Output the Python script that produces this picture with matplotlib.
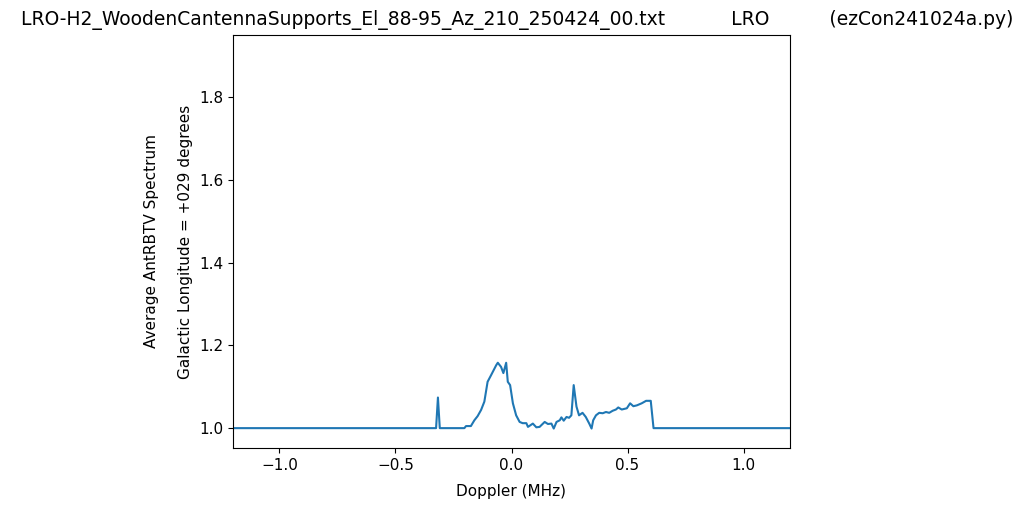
import matplotlib
matplotlib.use("Agg")
import matplotlib.pyplot as plt

doppler_mhz = [-1.2, -0.325, -0.317, -0.309, -0.203, -0.196, -0.175, -0.160, -0.146, -0.131,
               -0.117, -0.103, -0.088, -0.066, -0.059, -0.045, -0.035, -0.023, -0.016, -0.006,
               0.006, 0.020, 0.035, 0.048, 0.064, 0.071, 0.092, 0.107, 0.121, 0.143,
               0.157, 0.172, 0.182, 0.194, 0.208, 0.215, 0.225, 0.237, 0.248, 0.258,
               0.268, 0.280, 0.291, 0.306, 0.320, 0.335, 0.345, 0.352, 0.364, 0.378,
               0.393, 0.407, 0.421, 0.436, 0.450, 0.460, 0.475, 0.497, 0.511, 0.525,
               0.540, 0.561, 0.580, 0.600, 0.612, 1.2]
avg_spectrum = [1.0, 1.0, 1.074, 1.0, 1.0, 1.005, 1.005, 1.019, 1.029, 1.044,
                1.064, 1.112, 1.128, 1.152, 1.158, 1.148, 1.133, 1.158, 1.112, 1.104,
                1.06, 1.031, 1.015, 1.012, 1.012, 1.003, 1.011, 1.002, 1.003, 1.015,
                1.010, 1.011, 0.999, 1.015, 1.019, 1.026, 1.018, 1.027, 1.025, 1.031,
                1.104, 1.052, 1.031, 1.037, 1.027, 1.011, 0.999, 1.019, 1.031, 1.037,
                1.036, 1.039, 1.037, 1.042, 1.045, 1.050, 1.045, 1.048, 1.060, 1.053,
                1.055, 1.060, 1.066, 1.066, 1.0, 1.0]

title_text = ("LRO-H2_WoodenCantennaSupports_El_88-95_Az_210_250424_00.txt"
              "           LRO          (ezCon241024a.py)")

plt.rcParams['font.size'] = 11
fig = plt.figure(figsize=(10.24, 5.09), dpi=100)
ax = fig.add_axes([233/1024, 1 - 448/509, (790-233)/1024, (448-35)/509])
ax.plot(doppler_mhz, avg_spectrum)
ax.set_xlim(-1.2, 1.2)
ax.set_ylim(0.952, 1.95)
ax.set_yticks([1.0, 1.2, 1.4, 1.6, 1.8])
ax.set_xlabel("Doppler (MHz)", labelpad=8)
ax.set_ylabel("Average AntRBTV Spectrum\n\nGalactic Longitude = +029 degrees")
ax.set_title(title_text, fontsize=13.5, pad=7, x=0.511)
fig.savefig("out.png", dpi=100)
